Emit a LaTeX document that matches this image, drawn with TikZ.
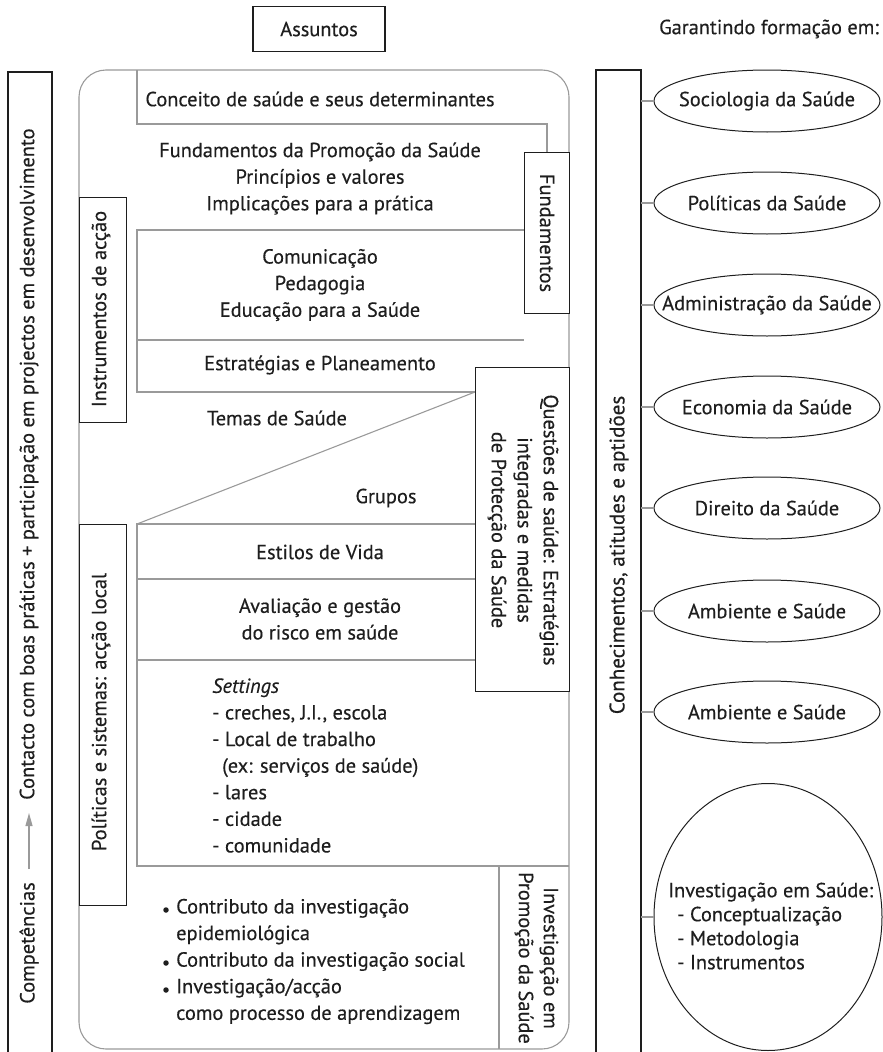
\documentclass[tikz,border=0pt]{standalone}
\usepackage{fontspec}
\setmainfont{PT Sans}[FakeBold=0.35]
\usetikzlibrary{shapes.geometric,arrows.meta}
\definecolor{ink}{HTML}{1E1E1E}
\definecolor{lgray}{HTML}{9A9A9A}
\begin{document}
\begin{tikzpicture}[x=1pt,y=-1pt,
  txt/.style={font=\fontsize{20.4}{26.6}\selectfont, inner sep=0pt, text=ink},
  blk/.style={draw=ink, line width=1.1pt, fill=white},
  gl/.style={draw=lgray, line width=1.1pt},
  ell/.style={ellipse, draw=ink, line width=1pt, minimum width=226pt, minimum height=62pt, inner sep=0pt},
  dot/.style={circle, fill=ink, inner sep=0pt, minimum size=5.5pt},
]
\useasboundingbox (0,0) rectangle (883,1052);

% top labels
\node[blk, minimum width=132pt, minimum height=45pt, inner sep=0pt] (assuntos) at (319,29) {};
\node[txt] (assuntosT) at (assuntos.center) {Assuntos};
\node[txt, anchor=east] (garant) at (879,29) {Garantindo formação em:};

% left outer box (open at bottom)
\draw[draw=ink, line width=1.1pt] (8,1053) -- (8,72) -- (52,72) -- (52,1053);
\node[txt, rotate=90] (comp) at (29,943) {Competências};
\node[txt, rotate=90, anchor=west] (cont) at (29,800) {Contacto com boas práticas + participação em projectos em desenvolvimento};
\draw[gl, -{Triangle[length=13pt,width=7pt]}, shorten <=13pt, shorten >=13pt] (comp.east) -- (cont.west);

% right box (open at bottom)
\draw[draw=ink, line width=1.1pt] (596,1053) -- (596,70) -- (641,70) -- (641,1053);
\coordinate (rb) at (641,0);
\node[txt, rotate=90, font=\fontsize{21}{26}\selectfont] (conhec) at (619,555) {Conhecimentos, atitudes e aptidões};

% big rounded box
\draw[gl, rounded corners=27pt] (79,70) rectangle (569,1049);

% inner gray structure
\coordinate (a1) at (137,70);
\coordinate (a2) at (137,124);
\coordinate (a3) at (547,124);
\coordinate (a4) at (547,152);
\draw[gl] (a1) -- (a2) -- (a3) -- (a4);

\coordinate (b1) at (137,230);
\coordinate (b2) at (524,230);
\coordinate (b3) at (137,392);
\coordinate (b4) at (475,392);
\draw[gl] (b2) -- (b1) -- (b3) -- (b4);
\coordinate (c1) at (137,340);
\coordinate (c2) at (524,340);
\draw[gl] (c1) -- (c2);

\coordinate (d1) at (137,524);
\coordinate (d2) at (475,524);
\coordinate (d3) at (137,866);
\coordinate (d4) at (569,866);
\draw[gl] (b4) -- (d1);
\draw[gl] (d2) -- (d1) -- (d3) -- (d4);
\coordinate (e1) at (137,579);
\coordinate (e2) at (475,579);
\draw[gl] (e1) -- (e2);
\coordinate (f1) at (137,660);
\coordinate (f2) at (475,660);
\draw[gl] (f1) -- (f2);
\coordinate (g1) at (499,866);
\coordinate (g2) at (499,1049);
\draw[gl] (g1) -- (g2);

% black side boxes
\node[blk, minimum width=45pt, minimum height=161pt, inner sep=0pt, anchor=north west] (fundbox) at (524,152) {};
\node[txt, rotate=-90] (fundT) at (fundbox.center) {Fundamentos};

\node[blk, minimum width=94pt, minimum height=324pt, inner sep=0pt, anchor=north west] (questbox) at (475,367) {};
\node[txt, rotate=-90, align=center, font=\fontsize{20.4}{26}\selectfont] (questT) at (523,530) {Questões de saúde: Estratégias\\integradas e medidas\\de Protecção da Saúde};

\node[blk, minimum width=47pt, minimum height=225pt, inner sep=0pt, anchor=north west] (instrbox) at (79,197) {};
\node[txt, rotate=90] (instrT) at (101,309) {Instrumentos de acção};

\node[blk, minimum width=47pt, minimum height=381pt, inner sep=0pt, anchor=north west] (polbox) at (79,524) {};
\node[txt, rotate=90] (polT) at (101,712) {Políticas e sistemas: acção local};

% central texts
\node[txt] (conceito) at (320,99) {Conceito de saúde e seus determinantes};
\node[txt, align=center] (fundam) at (320,178.5) {Fundamentos da Promoção da Saúde\\Princípios e valores\\Implicações para a prática};
\node[txt, align=center] (comun) at (320,285) {Comunicação\\Pedagogia\\Educação para a Saúde};
\node[txt] (estrat) at (320,365) {Estratégias e Planeamento};
\node[txt] (temas) at (277,418) {Temas de Saúde};
\node[txt] (grupos) at (386,498) {Grupos};
\node[txt] (estilos) at (320,552) {Estilos de Vida};
\node[txt, align=center] (avalia) at (320,619) {Avaliação e gestão\\do risco em saúde};
\node[txt, align=left, anchor=west] (settings) at (212,765.5) {\textit{Settings}\\- creches, J.I., escola\\- Local de trabalho\\\hspace*{10pt}(ex: serviços de saúde)\\- lares\\- cidade\\- comunidade};

\node[txt, align=left, anchor=west] (investlist) at (176,961.5) {Contributo da investigação\\epidemiológica\\Contributo da investigação social\\Investigação/acção\\como processo de aprendizagem};
\node[dot] (dt1) at (166,910) {};
\node[dot] (dt2) at (166,963) {};
\node[dot] (dt3) at (166,990) {};

\node[txt, rotate=-90, align=center, font=\fontsize{20.4}{25}\selectfont] (investPS) at (536.5,958) {Investigação em\\Promoção da Saúde};

% ellipses
\node[ell] (el1) at (767,101) {};
\node[ell] (el2) at (767,203) {};
\node[ell] (el3) at (767,305) {};
\node[ell] (el4) at (767,407) {};
\node[ell] (el5) at (767,508) {};
\node[ell] (el6) at (767,611) {};
\node[ell] (el7) at (767,712) {};
\node[txt] (el1T) at (el1.center) {Sociologia da Saúde};
\node[txt] (el2T) at (el2.center) {Políticas da Saúde};
\node[txt] (el3T) at (el3.center) {Administração da Saúde};
\node[txt] (el4T) at (el4.center) {Economia da Saúde};
\node[txt] (el5T) at (el5.center) {Direito da Saúde};
\node[txt] (el6T) at (el6.center) {Ambiente e Saúde};
\node[txt] (el7T) at (el7.center) {Ambiente e Saúde};
\node[ellipse, draw=ink, line width=1pt, minimum width=228pt, minimum height=267pt, inner sep=0pt] (el8) at (768,917) {};
\node[txt, align=left, anchor=west, font=\fontsize{20.4}{24}\selectfont] (el8T) at (668,926) {Investigação em Saúde:\\\hspace*{9pt}- Conceptualização\\\hspace*{9pt}- Metodologia\\\hspace*{9pt}- Instrumentos};

\foreach \e in {el1,el2,el3,el4,el5,el6,el7,el8}{
  \draw[gl] (rb |- \e.west) -- (\e.west);
}
\end{tikzpicture}
\end{document}
